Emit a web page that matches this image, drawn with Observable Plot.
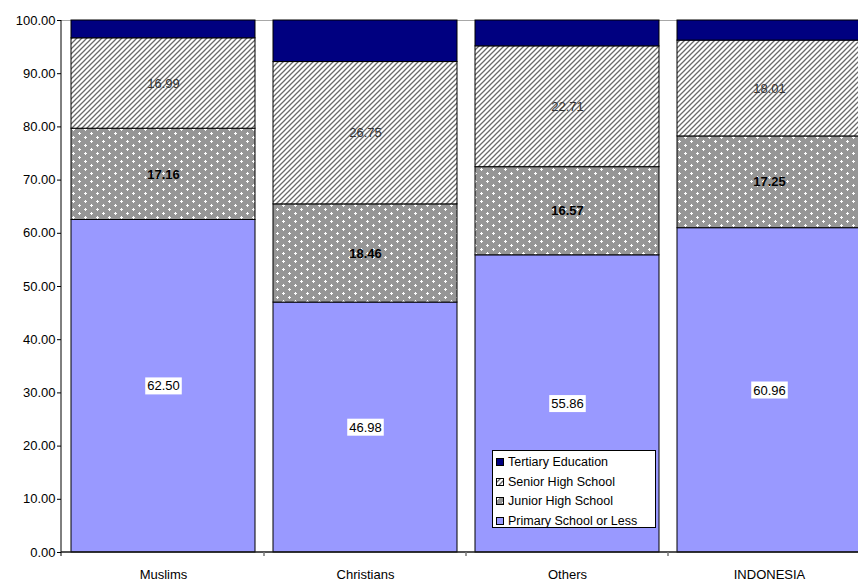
<!DOCTYPE html>
<html>
<head>
<meta charset="utf-8">
<script src="https://cdn.jsdelivr.net/npm/d3@7"></script>
<script src="https://cdn.jsdelivr.net/npm/@observablehq/plot@0.6"></script>
<style>
  body { margin: 0; background: #fff; overflow: hidden; font-family: "Liberation Sans", Arial, sans-serif; }
  #wrap { position: relative; width: 858px; height: 581px; overflow: hidden; }
  .legend { position: absolute; left: 492px; top: 450px; width: 164px; height: 78px; border: 1px solid #000;
            background: #fff; box-sizing: border-box; font-size: 12.5px; color: #000; }
  .legend .row { position: absolute; left: 3px; height: 14px; display: flex; align-items: center; white-space: nowrap; }
  .legend .row svg { margin-right: 4px; }
</style>
</head>
<body>
<!-- fill patterns shared by the bars and the legend swatches -->
<svg width="0" height="0" style="position:absolute">
  <defs>
    <pattern id="hatch" patternUnits="userSpaceOnUse" width="5" height="5">
      <rect width="5" height="5" fill="#fff"/>
      <path d="M0,5 L5,0 M-1.5,1.5 L1.5,-1.5 M3.5,6.5 L6.5,3.5" stroke="#6a6a6a" stroke-width="1.3"/>
    </pattern>
    <pattern id="dots" patternUnits="userSpaceOnUse" width="12" height="8">
      <rect width="12" height="8" fill="#969696"/>
      <rect x="1" y="0" width="1" height="3" fill="#fff"/>
      <rect x="0" y="1" width="3" height="1" fill="#fff"/>
      <rect x="7" y="4" width="1" height="3" fill="#fff"/>
      <rect x="6" y="5" width="3" height="1" fill="#fff"/>
    </pattern>
  </defs>
</svg>
<div id="wrap"></div>
<script>
const categories = ["Muslims", "Christians", "Others", "INDONESIA"];
const levels = ["Primary School or Less", "Junior High School", "Senior High School", "Tertiary Education"];
const primary  = [62.50, 46.98, 55.86, 60.96];
const junior   = [17.16, 18.46, 16.57, 17.25];
const senior   = [16.99, 26.75, 22.71, 18.01];
const tertiary = [3.35, 7.81, 4.86, 3.78];
const yTicks = [0, 10, 20, 30, 40, 50, 60, 70, 80, 90, 100];
const levelFills = ["#9999ff", "url(#dots)", "url(#hatch)", "#000080"];

// long-form rows, stacked bottom to top in level order
const series = [primary, junior, senior, tertiary];
const rows = [];
categories.forEach((cat, i) => {
  levels.forEach((level, j) => rows.push({cat, level, value: series[j][i]}));
});

const fmt = d3.format(".2f");
const labelFor = (lvl) => (d) => d.level === lvl ? fmt(d.value) : "";

const plot = Plot.plot({
  width: 858,
  height: 581,
  marginLeft: 61,
  marginRight: 0,
  marginTop: 20,
  marginBottom: 29,
  style: {fontFamily: "Liberation Sans, Arial, sans-serif", fontSize: "13px", color: "#000", background: "transparent", overflow: "hidden"},
  x: {domain: categories, range: [61, 871], paddingInner: 0.09, paddingOuter: 0.045, label: null},
  y: {domain: [0, 100], label: null},
  color: {domain: levels, range: levelFills},
  marks: [
    Plot.ruleY([100], {stroke: "#a8a8a8"}),
    Plot.barY(rows, {x: "cat", y: "value", z: "level", fill: "level", stroke: "#000", strokeWidth: 1}),
    Plot.axisY({ticks: yTicks, tickFormat: fmt, tickSize: 4, tickPadding: 2, fontSize: 13, label: null, stroke: "#000"}),
    Plot.axisX({tickSize: 0, tickPadding: 17, fontSize: 13, label: null}),
    Plot.text(rows, Plot.stackY({x: "cat", y: "value", z: "level", text: labelFor(levels[0]), fill: "#000", fontSize: 13, className: "lbl-primary"})),
    Plot.text(rows, Plot.stackY({x: "cat", y: "value", z: "level", text: labelFor(levels[1]), fill: "#000", fontSize: 13, fontWeight: "bold"})),
    Plot.text(rows, Plot.stackY({x: "cat", y: "value", z: "level", text: labelFor(levels[2]), fill: "#333", fontSize: 13}))
  ]
});

document.getElementById("wrap").appendChild(plot);

const svg = d3.select(plot);
const xs = plot.scale("x");
const ys = plot.scale("y");
const y0 = ys.apply(0), y100 = ys.apply(100);
const x0 = xs.range[0];

// axis lines
svg.append("line").attr("x1", x0).attr("x2", x0).attr("y1", y100).attr("y2", y0 + 4)
  .attr("stroke", "#000").attr("stroke-width", 1);
svg.append("line").attr("x1", x0).attr("x2", 858).attr("y1", y0).attr("y2", y0)
  .attr("stroke", "#1a1a1a").attr("stroke-width", 1.6);

// category separator ticks on the x axis
categories.forEach((c) => {
  const xb = xs.apply(c) + xs.bandwidth + (xs.step - xs.bandwidth) / 2;
  svg.append("line").attr("x1", xb).attr("x2", xb).attr("y1", y0).attr("y2", y0 + 4)
    .attr("stroke", "#777").attr("stroke-width", 1.5);
});

// white boxes behind the primary-school labels
svg.selectAll(".lbl-primary text").each(function () {
  if (!this.textContent) return;
  const b = this.getBBox();
  d3.select(this.parentNode).insert("rect", () => this)
    .attr("x", b.x - 2).attr("y", b.y - 1).attr("width", b.width + 4).attr("height", b.height + 2)
    .attr("transform", this.getAttribute("transform"))
    .attr("fill", "#fff");
});

// legend inside the plot area
const legendItems = [
  {label: levels[3], fill: levelFills[3]},
  {label: levels[2], fill: levelFills[2]},
  {label: levels[1], fill: levelFills[1]},
  {label: levels[0], fill: levelFills[0]}
];
const legend = d3.select("#wrap").append("div").attr("class", "legend");
legendItems.forEach((it, i) => {
  const row = legend.append("div").attr("class", "row").style("top", (4 + i * 19.5) + "px");
  const sw = row.append("svg").attr("width", 8).attr("height", 8);
  sw.append("rect").attr("x", 0.5).attr("y", 0.5).attr("width", 7).attr("height", 7)
    .attr("fill", it.fill).attr("stroke", "#000").attr("stroke-width", 1);
  row.append("span").text(it.label);
});
</script>
</body>
</html>
